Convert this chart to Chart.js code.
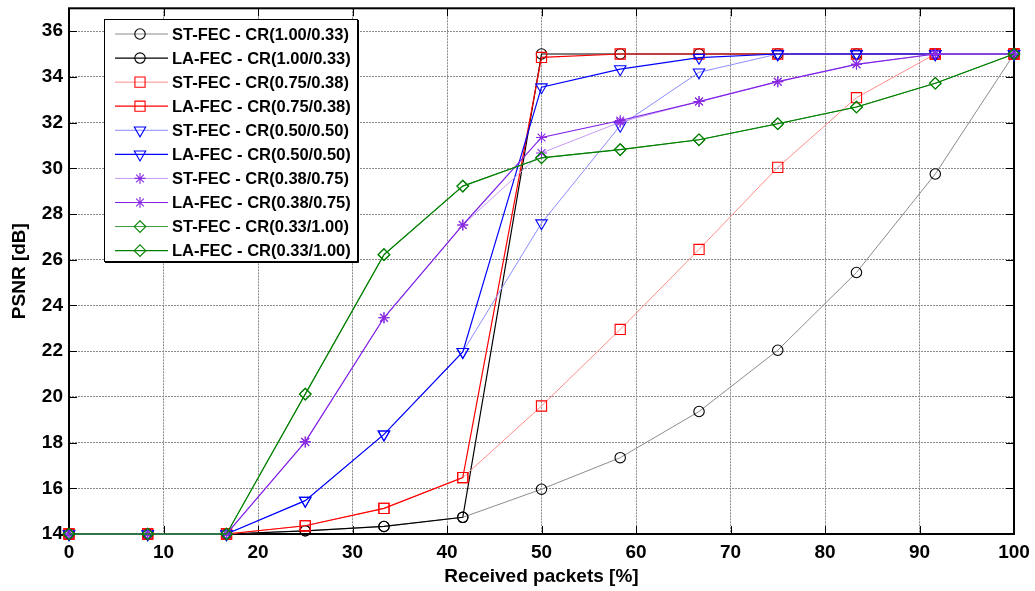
<!DOCTYPE html>
<html><head><meta charset="utf-8">
<script src="https://cdn.jsdelivr.net/npm/chart.js@4.4.1/dist/chart.umd.min.js"></script>
<style>html,body{margin:0;padding:0;background:#fff;}#wrap{width:1035px;height:591px;position:relative;}</style>
</head><body><div id="wrap"><canvas id="c"></canvas></div>
<script>
// ---- data ----
const xValues = [0, 8.33, 16.67, 25, 33.33, 41.67, 50, 58.33, 66.67, 75, 83.33, 91.67, 100];
const xTicks = [0, 10, 20, 30, 40, 50, 60, 70, 80, 90, 100];
const yTicks = [14, 16, 18, 20, 22, 24, 26, 28, 30, 32, 34, 36];
const labels = [
  'ST-FEC - CR(1.00/0.33)', 'LA-FEC - CR(1.00/0.33)',
  'ST-FEC - CR(0.75/0.38)', 'LA-FEC - CR(0.75/0.38)',
  'ST-FEC - CR(0.50/0.50)', 'LA-FEC - CR(0.50/0.50)',
  'ST-FEC - CR(0.38/0.75)', 'LA-FEC - CR(0.38/0.75)',
  'ST-FEC - CR(0.33/1.00)', 'LA-FEC - CR(0.33/1.00)'
];
const stCr100 = [14, 14, 14, 14.14, 14.33, 14.73, 15.96, 17.34, 19.36, 22.04, 25.44, 29.75, 35];
const laCr100 = [14, 14, 14, 14.14, 14.33, 14.73, 35, 35, 35, 35, 35, 35, 35];
const stCr075 = [14, 14, 14, 14.36, 15.12, 16.47, 19.6, 22.95, 26.45, 30.04, 33.09, 35, 35];
const laCr075 = [14, 14, 14, 14.36, 15.12, 16.47, 34.85, 35, 35, 35, 35, 35, 35];
const stCr050 = [14, 14, 14, 15.46, 18.36, 21.97, 27.6, 31.87, 34.2, 35, 35, 35, 35];
const laCr050 = [14, 14, 14, 15.46, 18.36, 21.97, 33.55, 34.34, 34.84, 35, 35, 35, 35];
const stCr038 = [14, 14, 14, 18.03, 23.46, 27.52, 30.67, 32.02, 32.92, 33.79, 34.55, 35, 35];
const laCr038 = [14, 14, 14, 18.03, 23.46, 27.52, 31.35, 32.09, 32.92, 33.79, 34.55, 35, 35];
const stCr033 = [14, 14, 14, 20.12, 26.22, 29.22, 30.46, 30.82, 31.25, 31.95, 32.68, 33.72, 35];
const laCr033 = [14, 14, 14, 20.12, 26.22, 29.22, 30.46, 30.82, 31.25, 31.95, 32.68, 33.72, 35];
const seriesValues = [stCr100, laCr100, stCr075, laCr075, stCr050, laCr050, stCr038, laCr038, stCr033, laCr033];

// ---- styles ----
const markerColors = ['#000000','#000000','#ff0000','#ff0000','#0000ff','#0000ff','#8a2be2','#8a2be2','#008000','#008000'];
const lineColors   = ['#8c8c8c','#000000','#ff8c8c','#ff0000','#8c8cff','#0000ff','#c79cf5','#8020e8','#3c9a3c','#008000'];
const lineWidths   = [1, 1.2, 1, 1.2, 1, 1.2, 1, 1.2, 1, 1.2];
const pStyles = ['circle','circle','rect','rect','triangle','triangle','star','star','rectRot','rectRot'];
const pRadius = [5.2,5.2,7.2,7.2,6.6,6.6,5.5,5.5,5.8,5.8];
const pRot    = [0,0,0,0,180,180,0,0,0,0];

const datasets = seriesValues.map((vals, i) => ({
  label: labels[i],
  data: vals.map((v, k) => ({x: xValues[k], y: v})),
  borderColor: lineColors[i],
  borderWidth: lineWidths[i],
  pointStyle: pStyles[i],
  pointRadius: pRadius[i],
  pointRotation: pRot[i],
  pointBorderColor: markerColors[i],
  pointBackgroundColor: 'rgba(0,0,0,0)',
  pointBorderWidth: 1.1,
  backgroundColor: 'rgba(0,0,0,0)',
  fill: false,
  tension: 0,
  clip: false,
  order: seriesValues.length - i
}));

const FONT = '"Liberation Sans", Arial, Helvetica, sans-serif';

const framePlugin = {
  id: 'frame',
  beforeDatasetsDraw(chart) {
    const {ctx, chartArea: a, scales} = chart;
    ctx.save();
    ctx.strokeStyle = '#000';
    ctx.lineWidth = 1;
    const tl = 8;
    ctx.beginPath();
    xTicks.forEach(v => {
      const px = Math.round(scales.x.getPixelForValue(v)) + 0.5;
      ctx.moveTo(px, a.bottom); ctx.lineTo(px, a.bottom - tl);
      ctx.moveTo(px, a.top); ctx.lineTo(px, a.top + tl);
    });
    yTicks.forEach(v => {
      const py = Math.round(scales.y.getPixelForValue(v)) + 0.5;
      ctx.moveTo(a.left, py); ctx.lineTo(a.left + tl, py);
      ctx.moveTo(a.right, py); ctx.lineTo(a.right - tl, py);
    });
    ctx.stroke();
    ctx.lineWidth = 2;
    ctx.strokeRect(a.left, a.top, a.right - a.left, a.bottom - a.top);
    ctx.restore();
  }
};

const legendPlugin = {
  id: 'boxLegend',
  afterDraw(chart) {
    const ctx = chart.ctx;
    const bx = 104, by = 19, bw = 253, bh = 242;
    ctx.save();
    ctx.fillStyle = '#fff';
    ctx.fillRect(bx, by, bw, bh);
    ctx.strokeStyle = '#000';
    ctx.lineWidth = 1;
    ctx.strokeRect(bx + 0.5, by + 0.5, bw, bh);
    ctx.beginPath();
    ctx.moveTo(bx + bw + 1.5, by + 1); ctx.lineTo(bx + bw + 1.5, by + bh + 1.5); ctx.lineTo(bx + 1, by + bh + 1.5);
    ctx.stroke();
    ctx.font = 'bold 16.5px ' + FONT;
    ctx.textBaseline = 'middle';
    ctx.textAlign = 'left';
    datasets.forEach((d, i) => {
      const y = 34 + i * 24.07;
      ctx.strokeStyle = d.borderColor;
      ctx.lineWidth = d.borderWidth;
      ctx.beginPath();
      ctx.moveTo(115, y); ctx.lineTo(168, y);
      ctx.stroke();
      ctx.strokeStyle = d.pointBorderColor;
      ctx.fillStyle = 'rgba(0,0,0,0)';
      ctx.lineWidth = d.pointBorderWidth;
      if (Chart.helpers && Chart.helpers.drawPoint) {
        Chart.helpers.drawPoint(ctx, {pointStyle: d.pointStyle, rotation: d.pointRotation, radius: d.pointRadius, borderWidth: d.pointBorderWidth}, 140, y);
      }
      ctx.fillStyle = '#000';
      ctx.fillText(d.label, 172, y + 1);
    });
    ctx.restore();
  }
};

new Chart(document.getElementById('c'), {
  type: 'line',
  data: {datasets},
  options: {
    responsive: true,
    maintainAspectRatio: false,
    animation: false,
    layout: {padding: {top: 6, right: 21, left: 0, bottom: 0}},
    plugins: {legend: {display: false}, tooltip: {enabled: false}},
    elements: {line: {borderJoinStyle: 'miter'}},
    scales: {
      x: {
        type: 'linear', min: 0, max: 100,
        afterBuildTicks: s => { s.ticks = xTicks.map(v => ({value: v})); },
        afterFit: s => { s.height = 57; s.paddingLeft = 0; s.paddingRight = 0; },
        ticks: {font: {family: FONT, size: 19, weight: 'bold'}, color: '#000', padding: 7, maxRotation: 0, autoSkip: false},
        grid: {color: '#8a8a8a', lineWidth: 1, drawTicks: false},
        border: {display: false, dash: [2, 1]},
        title: {display: true, text: 'Received packets [%]', color: '#000', font: {family: FONT, size: 19, weight: 'bold'}, padding: {top: 0, bottom: 3}}
      },
      y: {
        type: 'linear', min: 14, max: 37,
        afterBuildTicks: s => { s.ticks = yTicks.map(v => ({value: v})); },
        afterFit: s => { s.width = 69; s.paddingTop = 0; s.paddingBottom = 0; },
        ticks: {font: {family: FONT, size: 19, weight: 'bold'}, color: '#000', padding: 6},
        grid: {color: '#8a8a8a', lineWidth: 1, drawTicks: false},
        border: {display: false, dash: [2, 1]},
        title: {display: true, text: 'PSNR [dB]', color: '#000', font: {family: FONT, size: 19, weight: 'bold'}, padding: {top: 8, bottom: 0}}
      }
    }
  },
  plugins: [framePlugin, legendPlugin]
});
</script></body></html>
